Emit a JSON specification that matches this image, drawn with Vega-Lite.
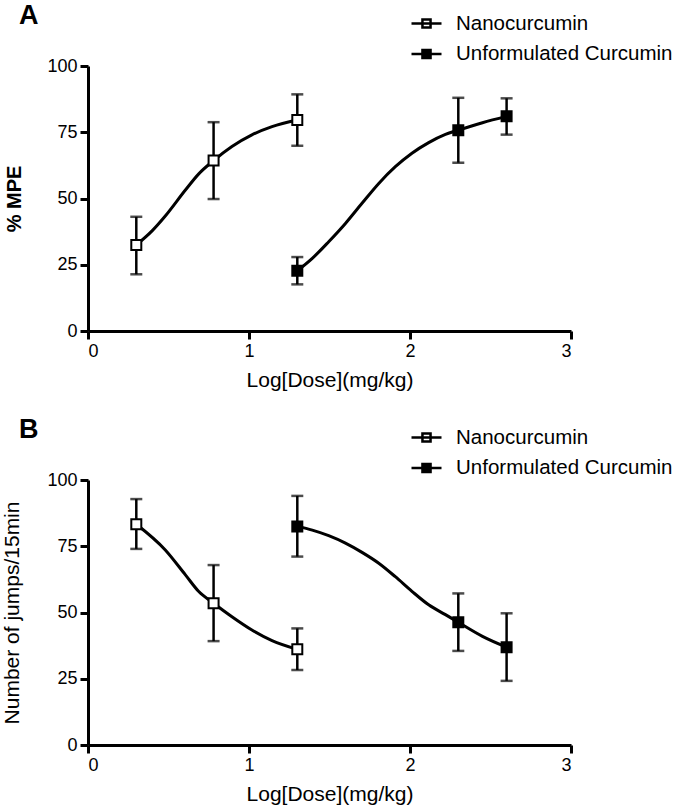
{
  "$schema": "https://vega.github.io/schema/vega-lite/v6.json",
  "background": "white",
  "padding": {"left": 1, "top": 2, "right": 5, "bottom": 2},
  "config": {
    "font": "Liberation Sans",
    "view": {"stroke": null},
    "axis": {"grid": false, "domainColor": "black", "domainWidth": 3, "tickColor": "black", "tickWidth": 3, "tickSize": 8, "labelFont": "Liberation Sans", "labelFontSize": 18, "labelColor": "black", "titleFont": "Liberation Sans", "titleFontSize": 21, "titleColor": "black", "titleFontWeight": "normal", "labelPadding": 3},
    "legend": {"symbolType": "M-1,0H1M-0.27,-0.27H0.27V0.27H-0.27Z", "symbolSize": 900, "symbolStrokeColor": "black", "symbolStrokeWidth": 2.5, "labelFont": "Liberation Sans", "labelFontSize": 20.5, "labelColor": "black", "labelOffset": 13, "labelLimit": 400, "rowPadding": 3.5, "padding": 0, "title": null, "orient": "none", "legendX": 322, "legendY": -59},
    "title": {"font": "Liberation Sans", "fontSize": 27, "fontWeight": "bold", "color": "black", "anchor": "start", "frame": "group", "dx": -69, "offset": -23, "baseline": "alphabetic"}
  },
  "datasets": {
    "ptsA": [
      {"series": "Nanocurcumin", "dose": 0.30, "val": 32.5, "lo": 21.4, "hi": 43.1},
      {"series": "Nanocurcumin", "dose": 0.78, "val": 64.3, "lo": 49.8, "hi": 78.8},
      {"series": "Nanocurcumin", "dose": 1.30, "val": 79.6, "lo": 69.9, "hi": 89.3},
      {"series": "Unformulated Curcumin", "dose": 1.30, "val": 22.7, "lo": 17.6, "hi": 27.9},
      {"series": "Unformulated Curcumin", "dose": 2.30, "val": 75.8, "lo": 63.5, "hi": 88.0},
      {"series": "Unformulated Curcumin", "dose": 2.60, "val": 81.0, "lo": 74.1, "hi": 87.8}
    ],
    "curveA": [
      {"series": "Nanocurcumin", "dose": 0.30, "val": 32.5},
      {"series": "Nanocurcumin", "dose": 0.398, "val": 37.8},
      {"series": "Nanocurcumin", "dose": 0.48, "val": 43.4},
      {"series": "Nanocurcumin", "dose": 0.605, "val": 53.2},
      {"series": "Nanocurcumin", "dose": 0.688, "val": 59.3},
      {"series": "Nanocurcumin", "dose": 0.78, "val": 64.3},
      {"series": "Nanocurcumin", "dose": 0.894, "val": 69.6},
      {"series": "Nanocurcumin", "dose": 1.018, "val": 74.0},
      {"series": "Nanocurcumin", "dose": 1.143, "val": 77.1},
      {"series": "Nanocurcumin", "dose": 1.30, "val": 79.6},
      {"series": "Unformulated Curcumin", "dose": 1.30, "val": 22.7},
      {"series": "Unformulated Curcumin", "dose": 1.393, "val": 27.4},
      {"series": "Unformulated Curcumin", "dose": 1.495, "val": 33.7},
      {"series": "Unformulated Curcumin", "dose": 1.599, "val": 40.6},
      {"series": "Unformulated Curcumin", "dose": 1.702, "val": 48.2},
      {"series": "Unformulated Curcumin", "dose": 1.806, "val": 55.7},
      {"series": "Unformulated Curcumin", "dose": 1.909, "val": 62.0},
      {"series": "Unformulated Curcumin", "dose": 2.012, "val": 67.1},
      {"series": "Unformulated Curcumin", "dose": 2.116, "val": 71.1},
      {"series": "Unformulated Curcumin", "dose": 2.220, "val": 74.2},
      {"series": "Unformulated Curcumin", "dose": 2.30, "val": 75.8},
      {"series": "Unformulated Curcumin", "dose": 2.45, "val": 78.6},
      {"series": "Unformulated Curcumin", "dose": 2.60, "val": 81.0}
    ],
    "ptsB": [
      {"series": "Nanocurcumin", "dose": 0.30, "val": 83.3, "lo": 74.0, "hi": 92.8},
      {"series": "Nanocurcumin", "dose": 0.78, "val": 53.5, "lo": 39.2, "hi": 67.9},
      {"series": "Nanocurcumin", "dose": 1.30, "val": 36.1, "lo": 28.3, "hi": 44.0},
      {"series": "Unformulated Curcumin", "dose": 1.30, "val": 82.5, "lo": 71.1, "hi": 94.0},
      {"series": "Unformulated Curcumin", "dose": 2.30, "val": 46.3, "lo": 35.5, "hi": 57.2},
      {"series": "Unformulated Curcumin", "dose": 2.60, "val": 36.9, "lo": 24.2, "hi": 49.7}
    ],
    "curveB": [
      {"series": "Nanocurcumin", "dose": 0.30, "val": 83.3},
      {"series": "Nanocurcumin", "dose": 0.48, "val": 73.6},
      {"series": "Nanocurcumin", "dose": 0.605, "val": 64.2},
      {"series": "Nanocurcumin", "dose": 0.688, "val": 57.9},
      {"series": "Nanocurcumin", "dose": 0.78, "val": 53.5},
      {"series": "Nanocurcumin", "dose": 0.894, "val": 48.4},
      {"series": "Nanocurcumin", "dose": 1.018, "val": 43.4},
      {"series": "Nanocurcumin", "dose": 1.143, "val": 39.4},
      {"series": "Nanocurcumin", "dose": 1.30, "val": 36.1},
      {"series": "Unformulated Curcumin", "dose": 1.30, "val": 82.5},
      {"series": "Unformulated Curcumin", "dose": 1.393, "val": 81.1},
      {"series": "Unformulated Curcumin", "dose": 1.495, "val": 79.0},
      {"series": "Unformulated Curcumin", "dose": 1.599, "val": 76.2},
      {"series": "Unformulated Curcumin", "dose": 1.702, "val": 72.7},
      {"series": "Unformulated Curcumin", "dose": 1.806, "val": 68.6},
      {"series": "Unformulated Curcumin", "dose": 1.909, "val": 63.5},
      {"series": "Unformulated Curcumin", "dose": 2.012, "val": 58.0},
      {"series": "Unformulated Curcumin", "dose": 2.116, "val": 52.9},
      {"series": "Unformulated Curcumin", "dose": 2.220, "val": 49.2},
      {"series": "Unformulated Curcumin", "dose": 2.30, "val": 46.3},
      {"series": "Unformulated Curcumin", "dose": 2.45, "val": 41.0},
      {"series": "Unformulated Curcumin", "dose": 2.60, "val": 36.9}
    ]
  },
  "bounds": "flush",
  "spacing": 149,
  "resolve": {"scale": {"fill": "independent"}, "legend": {"fill": "independent"}},
  "vconcat": [
    {
      "title": {"text": "A"},
      "width": 483,
      "height": 265,
      "layer": [
        {
          "data": {"name": "curveA"},
          "mark": {"type": "line", "interpolate": "monotone", "color": "black", "strokeWidth": 3},
          "encoding": {
            "x": {"field": "dose", "type": "quantitative", "scale": {"domain": [0, 3], "nice": false}, "axis": {"values": [0, 1, 2, 3], "format": "d", "title": "Log[Dose](mg/kg)", "titlePadding": 9, "labelPadding": 3}},
            "y": {"field": "val", "type": "quantitative", "scale": {"domain": [0, 100], "nice": false}, "axis": {"values": [0, 25, 50, 75, 100], "title": "% MPE", "titleFontWeight": "bold", "titleFontSize": 20, "titlePadding": 22}},
            "detail": {"field": "series"}
          }
        },
        {
          "data": {"name": "ptsA"},
          "mark": {"type": "rule", "color": "black", "strokeWidth": 2.5},
          "encoding": {
            "x": {"field": "dose", "type": "quantitative"},
            "y": {"field": "lo", "type": "quantitative"},
            "y2": {"field": "hi"}
          }
        },
        {
          "data": {"name": "ptsA"},
          "mark": {"type": "tick", "orient": "horizontal", "color": "black", "size": 12, "thickness": 2.5},
          "encoding": {
            "x": {"field": "dose", "type": "quantitative"},
            "y": {"field": "lo", "type": "quantitative"}
          }
        },
        {
          "data": {"name": "ptsA"},
          "mark": {"type": "tick", "orient": "horizontal", "color": "black", "size": 12, "thickness": 2.5},
          "encoding": {
            "x": {"field": "dose", "type": "quantitative"},
            "y": {"field": "hi", "type": "quantitative"}
          }
        },
        {
          "data": {"name": "ptsA"},
          "mark": {"type": "point", "shape": "square", "filled": true, "size": 100, "stroke": "black", "strokeWidth": 2, "opacity": 1},
          "encoding": {
            "x": {"field": "dose", "type": "quantitative"},
            "y": {"field": "val", "type": "quantitative"},
            "fill": {"field": "series", "type": "nominal", "scale": {"domain": ["Nanocurcumin", "Unformulated Curcumin"], "range": ["white", "black"]}}
          }
        }
      ]
    },
    {
      "title": {"text": "B"},
      "width": 483,
      "height": 265,
      "layer": [
        {
          "data": {"name": "curveB"},
          "mark": {"type": "line", "interpolate": "monotone", "color": "black", "strokeWidth": 3},
          "encoding": {
            "x": {"field": "dose", "type": "quantitative", "scale": {"domain": [0, 3], "nice": false}, "axis": {"values": [0, 1, 2, 3], "format": "d", "title": "Log[Dose](mg/kg)", "titlePadding": 9, "labelPadding": 3}},
            "y": {"field": "val", "type": "quantitative", "scale": {"domain": [0, 100], "nice": false}, "axis": {"values": [0, 25, 50, 75, 100], "title": "Number of jumps/15min", "titlePadding": 24}},
            "detail": {"field": "series"}
          }
        },
        {
          "data": {"name": "ptsB"},
          "mark": {"type": "rule", "color": "black", "strokeWidth": 2.5},
          "encoding": {
            "x": {"field": "dose", "type": "quantitative"},
            "y": {"field": "lo", "type": "quantitative"},
            "y2": {"field": "hi"}
          }
        },
        {
          "data": {"name": "ptsB"},
          "mark": {"type": "tick", "orient": "horizontal", "color": "black", "size": 12, "thickness": 2.5},
          "encoding": {
            "x": {"field": "dose", "type": "quantitative"},
            "y": {"field": "lo", "type": "quantitative"}
          }
        },
        {
          "data": {"name": "ptsB"},
          "mark": {"type": "tick", "orient": "horizontal", "color": "black", "size": 12, "thickness": 2.5},
          "encoding": {
            "x": {"field": "dose", "type": "quantitative"},
            "y": {"field": "hi", "type": "quantitative"}
          }
        },
        {
          "data": {"name": "ptsB"},
          "mark": {"type": "point", "shape": "square", "filled": true, "size": 100, "stroke": "black", "strokeWidth": 2, "opacity": 1},
          "encoding": {
            "x": {"field": "dose", "type": "quantitative"},
            "y": {"field": "val", "type": "quantitative"},
            "fill": {"field": "series", "type": "nominal", "scale": {"domain": ["Nanocurcumin", "Unformulated Curcumin"], "range": ["white", "black"]}}
          }
        }
      ]
    }
  ]
}
